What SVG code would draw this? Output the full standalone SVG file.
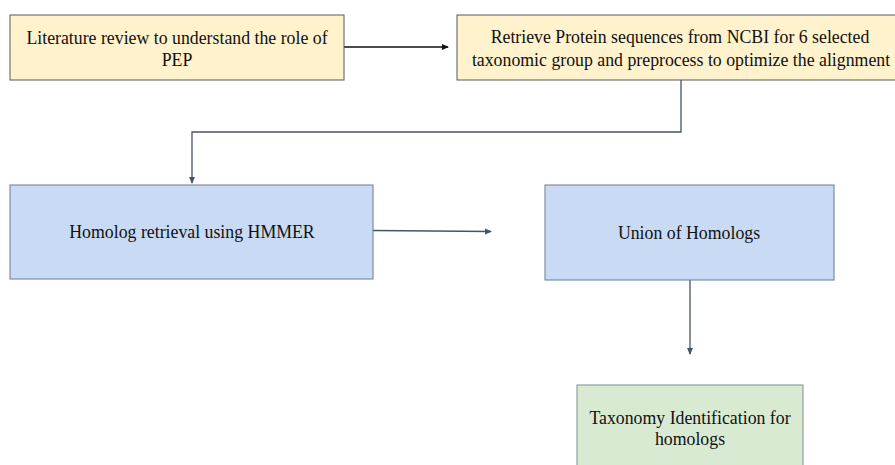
<svg xmlns="http://www.w3.org/2000/svg" width="895" height="465" viewBox="0 0 895 465">
<style>
.t{font-family:"Liberation Serif","Times New Roman",serif;font-size:17.8px;fill:#111;text-anchor:middle}
.y{fill:#FFF2CC;stroke:#595959;stroke-width:1}
.b{fill:#C9DAF5;stroke:#6B7B8F;stroke-width:1}
.g{fill:#D9EAD3;stroke:#7F8F8F;stroke-width:1}
.c{fill:none;stroke:#44546A;stroke-width:1.3}
.k{fill:none;stroke:#111;stroke-width:1.5}
</style>
<defs>
<marker id="ab" markerWidth="8" markerHeight="8" refX="6" refY="4" orient="auto" markerUnits="userSpaceOnUse"><path d="M0,1 L7,4 L0,7 z" fill="#44546A"/></marker>
<marker id="ak" markerWidth="8" markerHeight="8" refX="6" refY="4" orient="auto" markerUnits="userSpaceOnUse"><path d="M0,1 L7,4 L0,7 z" fill="#111"/></marker>
</defs>
<rect width="895" height="465" fill="#fff"/>
<g id="connectors">
<line class="k" x1="344" y1="47" x2="448" y2="47" marker-end="url(#ak)"/>
<polyline class="c" points="681,80 681,132 192,132 192,183" marker-end="url(#ab)"/>
<line class="c" x1="373" y1="230.5" x2="491" y2="231.5" marker-end="url(#ab)"/>
<line class="c" x1="690" y1="280" x2="690" y2="354" marker-end="url(#ab)"/>
</g>
<g id="n1">
<rect class="y" x="10" y="15" width="334" height="65"/>
<text class="t" x="177" y="44">Literature review to understand the role of</text>
<text class="t" x="177" y="66">PEP</text>
</g>
<g id="n2">
<rect class="y" x="457" y="15" width="446" height="65"/>
<text class="t" x="680" y="43">Retrieve Protein sequences from NCBI for 6 selected</text>
<text class="t" x="681" y="66">taxonomic group and preprocess to optimize the alignment</text>
</g>
<g id="n3">
<rect class="b" x="10" y="185" width="363" height="94"/>
<text class="t" x="192" y="238">Homolog retrieval using HMMER</text>
</g>
<g id="n4">
<rect class="b" x="545" y="185" width="289" height="95"/>
<text class="t" x="689" y="239">Union of Homologs</text>
</g>
<g id="n5">
<rect class="g" x="577" y="385" width="226" height="90"/>
<text class="t" x="690" y="424">Taxonomy Identification for</text>
<text class="t" x="690" y="445">homologs</text>
</g>
</svg>
